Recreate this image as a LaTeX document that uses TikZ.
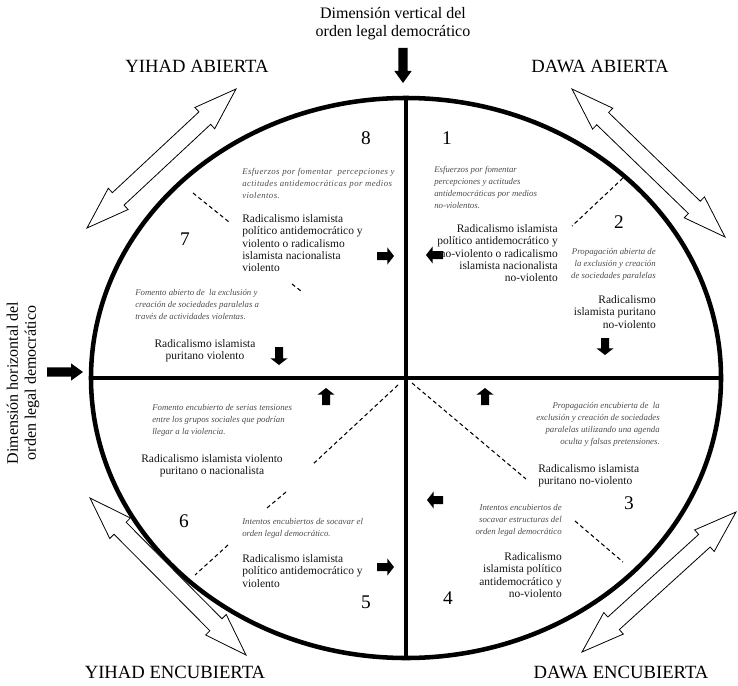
\documentclass[tikz,border=0pt]{standalone}
\usepackage{fontspec}
\setmainfont{Liberation Serif}
\usetikzlibrary{calc,shapes.geometric}
\newcommand\fatarrow[6]{% style, tail, tip, shaft half, head half, head length
  \coordinate (fa-p) at ($(#3)!#6!(#2)$);
  \path[#1] ($(#2)!#4!90:(#3)$) -- ($(fa-p)!#4!-90:(#2)$) -- ($(fa-p)!#5!-90:(#2)$) -- (#3)
     -- ($(fa-p)!#5!90:(#2)$) -- ($(fa-p)!#4!90:(#2)$) -- ($(#2)!#4!-90:(#3)$) -- cycle;}
\newcommand\dblarrow[6]{% style, tipA, tipB, shaft half, head half, head length
  \coordinate (da-p) at ($(#2)!#6!(#3)$);
  \coordinate (da-q) at ($(#3)!#6!(#2)$);
  \path[#1] (#2) -- ($(da-p)!#5!90:(#3)$) -- ($(da-p)!#4!90:(#3)$) -- ($(da-q)!#4!-90:(#2)$)
     -- ($(da-q)!#5!-90:(#2)$) -- (#3) -- ($(da-q)!#5!90:(#2)$) -- ($(da-q)!#4!90:(#2)$)
     -- ($(da-p)!#4!-90:(#3)$) -- ($(da-p)!#5!-90:(#3)$) -- cycle;}
\begin{document}
\begin{tikzpicture}[x=0.75pt,y=-0.75pt,
  bodytxt/.style={inner sep=0pt, font=\fontsize{8.6}{9.15}\selectfont, text=black!92},
  ittxt/.style={inner sep=0pt, font=\fontsize{6.6}{9}\selectfont\itshape, text=black!70},
  numtxt/.style={inner sep=0pt, font=\fontsize{14.5}{14.5}\selectfont},
  titletxt/.style={inner sep=0pt, font=\fontsize{14}{14}\selectfont},
  dimtxt/.style={inner sep=0pt, font=\fontsize{12}{13.5}\selectfont, align=center},
  divline/.style={line width=3pt},
  diag/.style={line width=0.8pt, dash pattern=on 3pt off 2.2pt},
  hollow/.style={draw=black, fill=white, line width=0.6pt, line join=miter},
  blkfill/.style={fill=black}
]
\useasboundingbox (0,0) rectangle (738,685);

% main oval and axes
\node[ellipse, draw, line width=3.4pt, inner sep=0pt, minimum width=472.5pt, minimum height=420pt] (oval) at (406,378) {};
\draw[divline] (oval.north) -- (oval.south);
\draw[divline] (oval.west) -- (oval.east);

% dashed diagonals (visible pieces)
\coordinate (ul1) at (193,193); \coordinate (ul2) at (229,222);
\coordinate (ul3) at (292,284); \coordinate (ul4) at (301,291);
\coordinate (ur1) at (623,178); \coordinate (ur2) at (572,226);
\coordinate (lr1) at (412,383); \coordinate (lr2) at (526,479);
\coordinate (lr3) at (575,521); \coordinate (lr4) at (623,562);
\coordinate (ll1) at (398,385); \coordinate (ll2) at (312,465);
\coordinate (ll3) at (286,492); \coordinate (ll4) at (267,508);
\coordinate (ll5) at (228,545); \coordinate (ll6) at (195,575);
\draw[diag] (ul1) -- (ul2) (ul3) -- (ul4);
\draw[diag] (ur1) -- (ur2);
\draw[diag] (lr1) -- (lr2) (lr3) -- (lr4);
\draw[diag] (ll1) -- (ll2) (ll3) -- (ll4) (ll5) -- (ll6);

% hollow double arrows
\coordinate (hurA) at (572,89);  \coordinate (hurB) at (725,237);
\coordinate (hulA) at (236,89);  \coordinate (hulB) at (87,228);
\coordinate (hllA) at (90,498);  \coordinate (hllB) at (246,655);
\coordinate (hlrA) at (736,512); \coordinate (hlrB) at (582,652);
\dblarrow{hollow}{hurA}{hurB}{6.4pt}{10.9pt}{32pt}
\dblarrow{hollow}{hulA}{hulB}{6.4pt}{10.9pt}{32pt}
\dblarrow{hollow}{hllA}{hllB}{6.4pt}{10.9pt}{32pt}
\dblarrow{hollow}{hlrA}{hlrB}{6.4pt}{10.9pt}{32pt}

% big black arrows
\coordinate (vtail) at (403,48); \coordinate (vtip) at (403,83);
\coordinate (htail) at (47,372); \coordinate (htip) at (83,372);
\fatarrow{blkfill}{vtail}{vtip}{3.5pt}{6.5pt}{9pt}
\fatarrow{blkfill}{htail}{htip}{3.5pt}{6.5pt}{9pt}

% small black arrows
\coordinate (a1t) at (377,256); \coordinate (a1h) at (394,256);
\coordinate (a2t) at (443,255); \coordinate (a2h) at (426,255);
\coordinate (a3t) at (605,338); \coordinate (a3h) at (605,355);
\coordinate (a4t) at (279,347); \coordinate (a4h) at (279,365);
\coordinate (a5t) at (326,405); \coordinate (a5h) at (326,388);
\coordinate (a6t) at (485,405); \coordinate (a6h) at (485,388);
\coordinate (a7t) at (377,567); \coordinate (a7h) at (394,567);
\coordinate (a8t) at (443,500); \coordinate (a8h) at (427,500);
\foreach \n in {1,...,8}{\fatarrow{blkfill}{a\n t}{a\n h}{3pt}{6.4pt}{5pt}}

% titles
\node[dimtxt, anchor=north] (vdim) at (393,7) {Dimensión vertical del\\orden legal democrático};
\node[dimtxt, rotate=90] (hdim) at (23,383) {Dimensión horizontal del\\orden legal democrático};
\node[titletxt] (yab) at (197,66) {YIHAD ABIERTA};
\node[titletxt] (dab) at (600,66) {DAWA ABIERTA};
\node[titletxt] (yen) at (175,672) {YIHAD ENCUBIERTA};
\node[titletxt] (den) at (621,672) {DAWA ENCUBIERTA};

% numbers
\node[numtxt] (n8) at (366,138) {8};
\node[numtxt] (n1) at (447,138) {1};
\node[numtxt] (n2) at (619,222) {2};
\node[numtxt] (n7) at (185,239) {7};
\node[numtxt] (n6) at (184,521) {6};
\node[numtxt] (n3) at (629,503) {3};
\node[numtxt] (n5) at (366,602) {5};
\node[numtxt] (n4) at (448,598) {4};

% octant 8
\node[ittxt, anchor=north west, align=left, font=\fontsize{6.6}{9}\selectfont\itshape\addfontfeature{LetterSpace=4.5}] (i8) at (242,168) {Esfuerzos por fomentar\ \ percepciones y\\actitudes antidemocráticas por medios\\violentos.};
\node[bodytxt, anchor=north west, align=left] (b8) at (242,214.5) {Radicalismo islamista\\político antidemocrático y\\violento o radicalismo\\islamista nacionalista\\violento};
% octant 1
\node[ittxt, anchor=north west, align=left] (i1) at (434,166) {Esfuerzos por fomentar\\percepciones y actitudes\\antidemocráticas por medios\\no-violentos.};
\node[bodytxt, anchor=north east, align=right] (b1) at (558,224.5) {Radicalismo islamista\\político antidemocrático y\\no-violento o radicalismo\\islamista nacionalista\\no-violento};
% octant 2
\node[ittxt, anchor=north east, align=right] (i2) at (656,248) {Propagación abierta de\\la exclusión y creación\\de sociedades paralelas};
\node[bodytxt, anchor=north east, align=right] (b2) at (656,295.5) {Radicalismo\\islamista puritano\\no-violento};
% octant 7
\node[ittxt, anchor=north west, align=left] (i7) at (135,289) {Fomento abierto de\ \ la exclusión y\\creación de sociedades paralelas a\\través de actividades violentas.};
\node[bodytxt, anchor=north, align=center] (b7) at (205,339.5) {Radicalismo islamista\\puritano violento};
% octant 6
\node[ittxt, anchor=north west, align=left] (i6) at (152,404) {Fomento encubierto de serias tensiones\\entre los grupos sociales que podrían\\llegar a la violencia.};
\node[bodytxt, anchor=north, align=center] (b6) at (212,454.5) {Radicalismo islamista violento\\puritano o nacionalista};
% octant 3
\node[ittxt, anchor=north east, align=right] (i3) at (660,402) {Propagación encubierta de\ \ la\\exclusión y creación de sociedades\\paralelas utilizando una agenda\\oculta y falsas pretensiones.};
\node[bodytxt, anchor=north west, align=left] (b3) at (538,464.5) {Radicalismo islamista\\puritano no-violento};
% octant 5
\node[ittxt, anchor=north west, align=left] (i5) at (242,518) {Intentos encubiertos de socavar el\\orden legal democrático.};
\node[bodytxt, anchor=north west, align=left] (b5) at (242,554.5) {Radicalismo islamista\\político antidemocrático y\\violento};
% octant 4
\node[ittxt, anchor=north east, align=right] (i4) at (562,504) {Intentos encubiertos de\\socavar estructuras del\\orden legal democrático};
\node[bodytxt, anchor=north east, align=right] (b4) at (562,552.5) {Radicalismo\\islamista político\\antidemocrático y\\no-violento};
\end{tikzpicture}
\end{document}
